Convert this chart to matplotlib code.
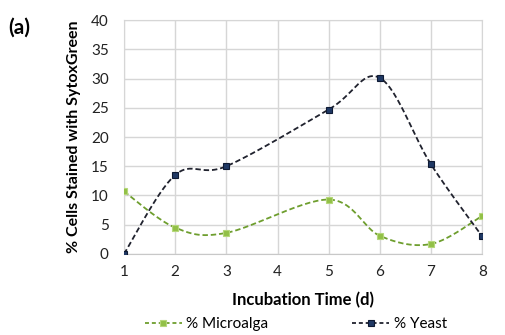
import numpy as np
import matplotlib.pyplot as plt

plt.rcParams['font.family'] = ['Lato', 'DejaVu Sans']

# incubation days (category positions on the axis) and measured percentages
days = [1, 2, 3, 5, 6, 7, 8]
day_labels = ['1', '2', '3', '4', '5', '6', '7', '8']
pos = [0, 1, 2, 4, 5, 6, 7]
microalga = [10.7, 4.5, 3.6, 9.3, 3.1, 1.7, 6.5]
yeast = [0.0, 13.5, 15.0, 24.7, 30.1, 15.3, 3.0]


def smooth(x, y, n=30):
    # cubic bezier smoothing through every point (spreadsheet style)
    x = np.asarray(x, float)
    y = np.asarray(y, float)
    pts = np.column_stack([x, y])
    out = []
    for i in range(len(pts) - 1):
        p0 = pts[i - 1] if i > 0 else pts[i]
        p1 = pts[i]
        p2 = pts[i + 1]
        p3 = pts[i + 2] if i + 2 < len(pts) else pts[i + 1]
        c1 = p1 + (p2 - p0) / 6
        c2 = p2 - (p3 - p1) / 6
        t = np.linspace(0, 1, n)[:, None]
        seg = ((1 - t) ** 3) * p1 + 3 * ((1 - t) ** 2) * t * c1 + 3 * (1 - t) * t ** 2 * c2 + t ** 3 * p2
        out.append(seg if i == 0 else seg[1:])
    s = np.vstack(out)
    return s[:, 0], s[:, 1]


fig = plt.figure(figsize=(5.06, 3.35), dpi=100)
ax = fig.add_axes([0.245, 0.242, 0.708, 0.698])

series = [(microalga, '#6E9E2E', '#92C047', '#B5D77A', '% Microalga'),
          (yeast, '#20222E', '#1F3864', '#0E1A33', '% Yeast')]

for vals, lc, fc, ec, lab in series:
    sx, sy = smooth(pos, vals)
    ax.plot(sx, sy, color=lc, lw=1.3, ls=(0, (3, 1.6)), zorder=3)
    ax.plot(pos, vals, ls='none', marker='s', ms=4.6, mfc=fc, mec=ec, mew=0.8, zorder=4)
    ax.plot([], [], color=lc, lw=1.3, ls=(0, (2.2, 1.6)), marker='s', ms=4.6,
            mfc=fc, mec=ec, mew=0.8, label=lab)

ax.set_xlim(0, 7)
ax.set_ylim(0, 40)
ax.set_xticks(range(8))
ax.set_xticklabels(day_labels)
ax.set_yticks(range(0, 41, 5))
ax.grid(True, color='#D6D6D6', lw=1)
ax.set_axisbelow(True)
for sp in ax.spines.values():
    sp.set_color('#D6D6D6')
ax.spines['bottom'].set_color('#C8C8C8')
ax.tick_params(length=0, labelsize=11, colors='#222222', pad=8)
ax.tick_params(axis='y', pad=11)

ax.set_xlabel('Incubation Time (d)', fontsize=12, fontweight='bold', labelpad=9)
ax.set_ylabel('% Cells Stained with SytoxGreen', fontsize=11.5, fontweight='bold', labelpad=7)
fig.text(0.016, 0.9, '(a)', fontsize=15, fontweight='bold')

ax.legend(loc='center', bbox_to_anchor=(0.48, -0.3), ncol=2, frameon=False,
          fontsize=11, handlelength=2.4, columnspacing=5.5, handletextpad=0.3)

fig.savefig('out.png', dpi=100)
